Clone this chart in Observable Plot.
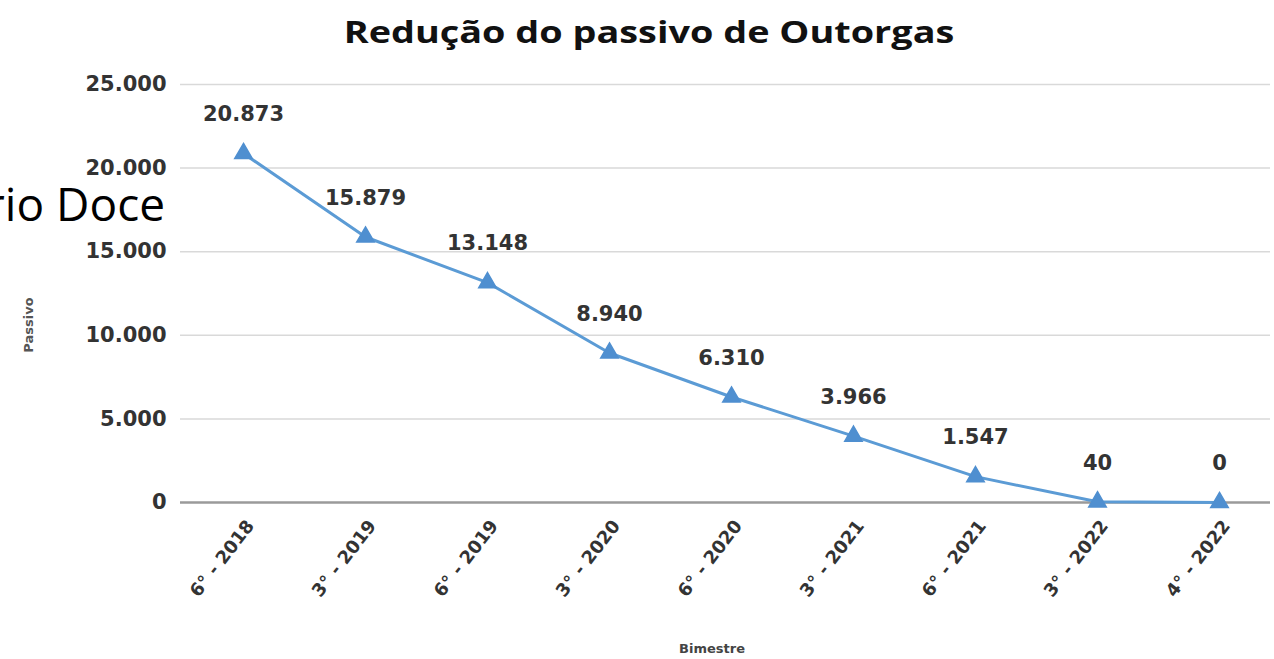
<!DOCTYPE html>
<html><head><meta charset="utf-8">
<script src="https://cdn.jsdelivr.net/npm/d3@7"></script>
<script src="https://cdn.jsdelivr.net/npm/@observablehq/plot@0.6"></script>
<style>
body{margin:0;background:#fff;width:1274px;height:659px;position:relative;overflow:hidden}
#title{height:60px;width:1274px;position:relative}
#title span{position:absolute;left:649px;top:31px;transform:translate(-50%,-50%) scaleX(1.22);font:bold 31px "Open Sans",sans-serif;color:#111;white-space:nowrap}
.ov{position:absolute;white-space:nowrap}
</style></head><body>
<div id="title"><span>Redução do passivo de Outorgas</span></div>
<div id="chart"></div>
<div class="ov" style="right:1109px;top:178px;font:46px 'Open Sans',sans-serif;color:#000;line-height:50px">rio Doce</div>
<div class="ov" style="left:712px;top:648px;transform:translate(-50%,-50%);font:bold 13px 'DejaVu Sans',sans-serif;color:#444">Bimestre</div>
<div class="ov" style="left:28px;top:325px;transform:translate(-50%,-50%) rotate(-90deg);font:bold 13px 'DejaVu Sans',sans-serif;color:#555">Passivo</div>
<script>
const categories = ["6° - 2018","3° - 2019","6° - 2019","3° - 2020","6° - 2020","3° - 2021","6° - 2021","3° - 2022","4° - 2022"];
const values = [20873, 15879, 13148, 8940, 6310, 3966, 1547, 40, 0];
const yTicks = [0, 5000, 10000, 15000, 20000, 25000];
const data = categories.map((c, i) => ({c, v: values[i]}));
const fmt = d3.formatLocale({decimal: ",", thousands: ".", grouping: [3], currency: ["", ""]}).format(",d");
const font = "'DejaVu Sans', sans-serif";
const chart = Plot.plot({
  width: 1274, height: 599,
  marginLeft: 180, marginRight: 4, marginTop: 24, marginBottom: 157,
  style: {fontFamily: font, background: "transparent"},
  x: {type: "point", domain: categories, padding: 0.445, align: 0.55, label: null},
  y: {domain: [0, 25000], label: null},
  marks: [
    Plot.ruleY(yTicks.filter(d => d > 0), {stroke: "#d9d9d9", strokeWidth: 1.5}),
    Plot.ruleY([0], {stroke: "#9a9a9a", strokeWidth: 2.5}),
    Plot.axisY({ticks: yTicks, tickFormat: fmt, tickSize: 0, tickPadding: 14, fontSize: 21, fontWeight: "bold", fill: "#333", label: null}),
    Plot.axisX({tickSize: 0, tickPadding: 20, tickRotate: -52, fontSize: 18, fontWeight: "bold", fill: "#333", label: null, dx: 7}),
    Plot.line(data, {x: "c", y: "v", stroke: "#5b9bd5", strokeWidth: 3}),
    Plot.dot(data, {x: "c", y: "v", symbol: "triangle", r: 6.5, fill: "#4f8fd0", stroke: "#4f8fd0"}),
    Plot.text(data, {x: "c", y: "v", text: d => fmt(d.v), dy: -39, fontSize: 21, fontWeight: "bold", fill: "#333"})
  ]
});
document.getElementById("chart").appendChild(chart);
</script>
</body></html>
